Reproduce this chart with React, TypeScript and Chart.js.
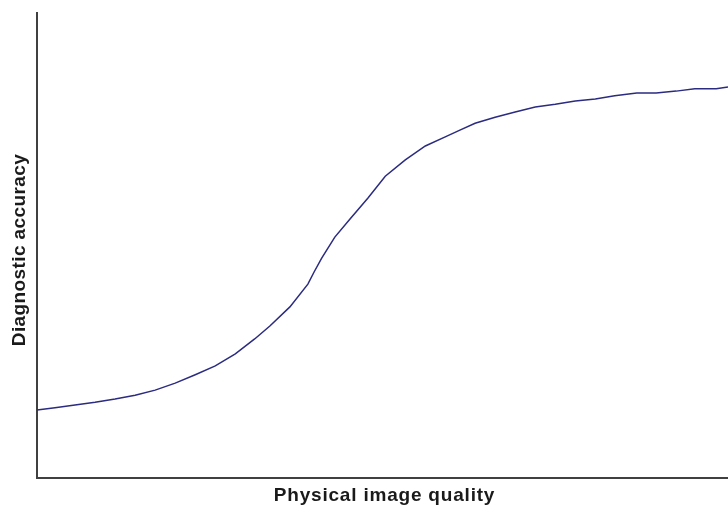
import React, { useEffect, useRef } from "react";
import { Chart, registerables } from "chart.js";

Chart.register(...registerables);

const xValues = [0, 2.6, 5.5, 8.4, 11.3, 14.2, 17.1, 20.0, 22.9, 25.8, 28.7, 31.5, 33.7, 36.6, 39.2, 40.1, 41.2, 43.1, 45.3, 47.9, 50.4, 53.3, 56.2, 59.0, 61.2, 63.4, 66.3, 69.2, 72.1, 75.0, 77.9, 80.8, 83.6, 86.8, 89.6, 92.5, 95.2, 98.3, 100];
const yValues = [14.6, 15.1, 15.7, 16.3, 17.0, 17.8, 18.9, 20.4, 22.2, 24.1, 26.7, 29.9, 32.7, 36.8, 41.7, 44.3, 47.3, 51.8, 55.7, 60.2, 64.9, 68.4, 71.4, 73.3, 74.8, 76.3, 77.6, 78.7, 79.8, 80.4, 81.1, 81.5, 82.2, 82.8, 82.8, 83.2, 83.7, 83.7, 84.1];
const xTitle = "Physical image quality";
const yTitle = "Diagnostic accuracy";

const titlePlugin = {
  id: "axisTitles",
  afterDraw(chart: any) {
    const { ctx, chartArea } = chart;
    ctx.save();
    ctx.fillStyle = "#1a1a1a";
    ctx.font = "bold 19px 'Liberation Sans', Arial, sans-serif";
    (ctx as any).letterSpacing = "0.8px";
    ctx.textAlign = "center";
    ctx.textBaseline = "alphabetic";
    ctx.fillText(xTitle, (chartArea.left + chartArea.right) / 2 + 2, 501);
    (ctx as any).letterSpacing = "0.4px";
    ctx.translate(25, 250);
    ctx.rotate(-Math.PI / 2);
    ctx.fillText(yTitle, 0, 0);
    ctx.restore();
  },
};

export default function App() {
  const ref = useRef<HTMLCanvasElement | null>(null);
  useEffect(() => {
    if (!ref.current) return;
    const data = xValues.map((x, i) => ({ x, y: yValues[i] }));
    const chart = new Chart(ref.current, {
      type: "line",
      data: {
        datasets: [
          {
            data,
            borderColor: "#2b2b80",
            borderWidth: 1.5,
            pointRadius: 0,
            tension: 0,
            fill: false,
          },
        ],
      },
      options: {
        animation: false,
        responsive: false,
        maintainAspectRatio: false,
        layout: { padding: { top: 13, right: 0, left: 0, bottom: 0 } },
        plugins: { legend: { display: false }, tooltip: { enabled: false } },
        scales: {
          x: {
            type: "linear",
            min: 0,
            max: 100,
            grid: { display: false },
            ticks: { display: false },
            border: { display: true, color: "#404040", width: 2 },
            afterFit: (s: any) => {
              s.height = 29;
            },
          },
          y: {
            min: 0,
            max: 100,
            grid: { display: false },
            ticks: { display: false },
            border: { display: true, color: "#404040", width: 2 },
            afterFit: (s: any) => {
              s.width = 37;
            },
          },
        },
      },
      plugins: [titlePlugin],
    });
    return () => chart.destroy();
  }, []);
  return (
    <div style={{ position: "fixed", left: 0, top: 0, width: 728, height: 507, background: "#fff" }}>
      <canvas ref={ref} width={728} height={507} style={{ width: 728, height: 507 }} />
    </div>
  );
}
